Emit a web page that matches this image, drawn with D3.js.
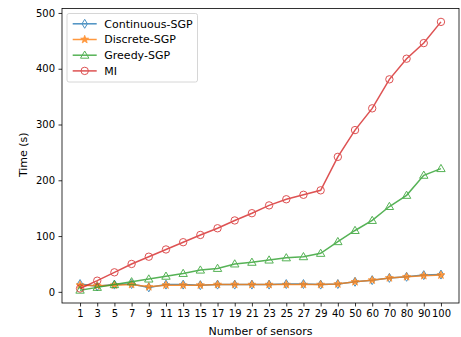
<!DOCTYPE html>
<html><head><meta charset="utf-8">
<script src="https://cdn.jsdelivr.net/npm/d3@7"></script>
<style>body{margin:0;background:#fff}svg{display:block}text{font-family:"DejaVu Sans",sans-serif}</style>
</head><body>
<svg id="c" width="461" height="337"></svg>
<script>
const categories = ["1","3","5","7","9","11","13","15","17","19","21","23","25","27","29","40","50","60","70","80","90","100"];
const continuousSGP = [14,10,13,14,8,13,13,12,13,13,13,13,14,14,13,14,18,21,25,27,30,31];
const discreteSGP   = [12,11,12,13,9,12,12,12,13,13,13,13,13,13,13,14,18,21,25,27,29,30];
const greedySGP     = [3,8,13,18,23,28,33,39,42,50,53,57,61,63,69,90,110,128,153,173,209,221];
const mi            = [6,20,35,50,63,76,89,102,114,128,141,155,166,174,182,242,290,329,381,418,446,484];
const yTicks = [0,100,200,300,400,500];
const seriesNames = ["Continuous-SGP","Discrete-SGP","Greedy-SGP","MI"];

const series = [
  {name: seriesNames[0], values: continuousSGP, color: "#1f77b4", marker: "diamond"},
  {name: seriesNames[1], values: discreteSGP, color: "#ff7f0e", marker: "star"},
  {name: seriesNames[2], values: greedySGP, color: "#2ca02c", marker: "triangle"},
  {name: seriesNames[3], values: mi, color: "#d62728", marker: "circle"}
];

const svg = d3.select("#c");
const L = 62, R = 459, T = 8.5, B = 303;
const x = d3.scalePoint().domain(categories).range([L, R]).padding(1.05);
const y = d3.scaleLinear().domain([-20, 508]).range([B, T]);

function markerPath(type) {
  if (type === "diamond") return "M0,-4.5L2.7,0L0,4.5L-2.7,0Z";
  if (type === "triangle") return "M0,-4.2L4.2,3L-4.2,3Z";
  if (type === "circle") return d3.symbol(d3.symbolCircle, Math.PI*3.7*3.7)();
  if (type === "star") {
    let p = "";
    for (let i = 0; i < 10; i++) {
      const r = i % 2 ? 1.7 : 4.2;
      const a = -Math.PI/2 + i*Math.PI/5;
      p += (i ? "L" : "M") + (r*Math.cos(a)).toFixed(2) + "," + (r*Math.sin(a)).toFixed(2);
    }
    return p + "Z";
  }
}
function drawMarker(g, s, cx, cy) {
  const filled = s.marker === "star";
  g.append("path").attr("d", markerPath(s.marker))
    .attr("transform", `translate(${cx},${cy})`)
    .attr("fill", filled ? s.color : "none")
    .attr("stroke", s.color).attr("stroke-width", filled ? 0.8 : 1);
}

const plot = svg.append("g");
const line = d3.line().x((d,i) => x(categories[i])).y(d => y(d));
series.forEach(s => {
  const g = plot.append("g").attr("opacity", 0.8);
  g.append("path").datum(s.values).attr("d", line)
    .attr("fill", "none").attr("stroke", s.color).attr("stroke-width", 1.5);
  s.values.forEach((v, i) => drawMarker(g, s, x(categories[i]), y(v)));
});

svg.append("rect").attr("x", L).attr("y", T).attr("width", R-L).attr("height", B-T)
  .attr("fill", "none").attr("stroke", "#000").attr("stroke-width", 0.8);

const xa = svg.append("g").attr("transform", `translate(0,${B})`)
  .call(d3.axisBottom(x).tickSize(3.5).tickPadding(3.5));
const ya = svg.append("g").attr("transform", `translate(${L},0)`)
  .call(d3.axisLeft(y).tickValues(yTicks).tickSize(3.5).tickPadding(3.5));
[xa, ya].forEach(a => {
  a.select(".domain").remove();
  a.selectAll("line").attr("stroke", "#000").attr("stroke-width", 0.8);
  a.selectAll("text").attr("font-size", 10).attr("fill", "#000").attr("font-family", "DejaVu Sans");
});

svg.append("text").attr("x", (L+R)/2).attr("y", 335).attr("text-anchor", "middle")
  .attr("font-size", 11).text("Number of sensors");
svg.append("text").attr("transform", `translate(27,${(T+B)/2 - 1}) rotate(-90)`)
  .attr("text-anchor", "middle").attr("font-size", 11).text("Time (s)");

const lg = svg.append("g");
lg.append("rect").attr("x", 67).attr("y", 13.5).attr("width", 130.5).attr("height", 68.5)
  .attr("rx", 2).attr("fill", "#fff").attr("fill-opacity", 0.8)
  .attr("stroke", "#ccc").attr("stroke-width", 0.8);
series.forEach((s, i) => {
  const yy = 23.8 + i*15.7;
  const g = lg.append("g").attr("opacity", 0.8);
  g.append("line").attr("x1", 72.7).attr("x2", 96.7).attr("y1", yy).attr("y2", yy)
    .attr("stroke", s.color).attr("stroke-width", 1.5);
  drawMarker(g, s, 84.7, yy);
  lg.append("text").attr("x", 104.3).attr("y", yy).attr("dy", "0.35em")
    .attr("font-size", 11).attr("fill", "#000").text(s.name);
});
</script>
</body></html>
